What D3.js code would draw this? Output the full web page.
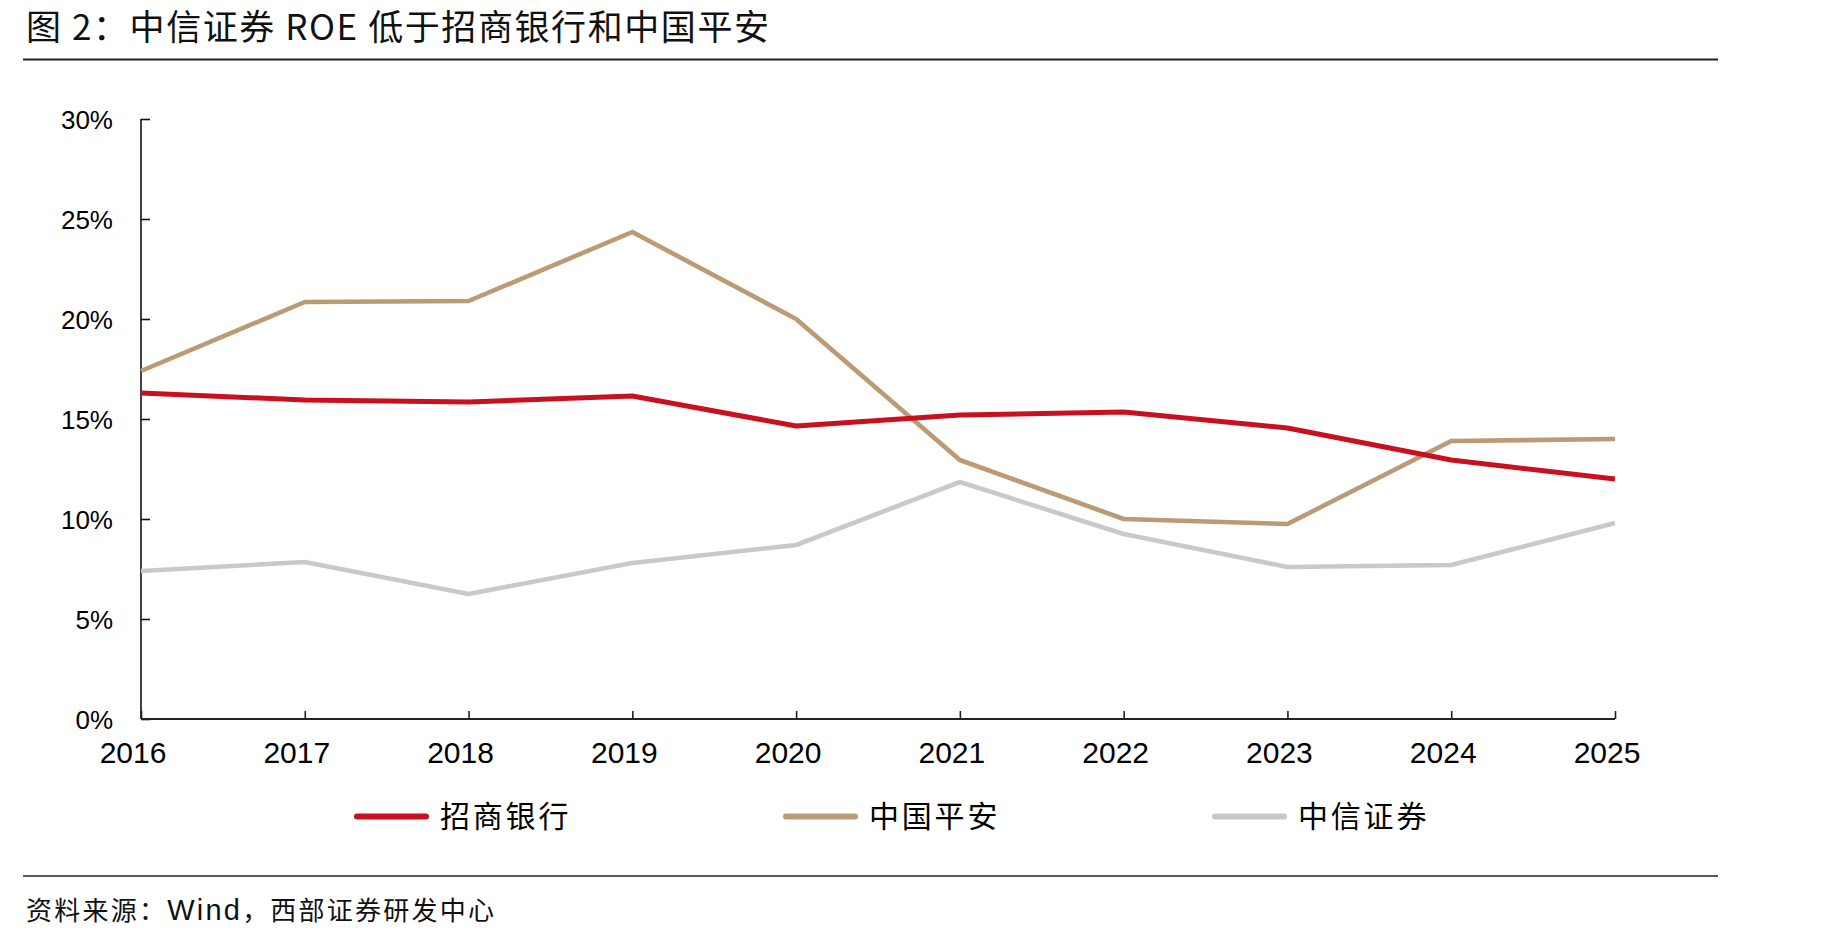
<!DOCTYPE html>
<html>
<head>
<meta charset="utf-8">
<script src="https://cdn.jsdelivr.net/npm/d3@7"></script>
<style>
  body { margin: 0; background: #fff; }
  svg { display: block; }
</style>
</head>
<body>
<div id="chart"></div>
<script>
// data (ROE, %)
var years = [2016, 2017, 2018, 2019, 2020, 2021, 2022, 2023, 2024, 2025];
var cmbRoe = [16.3, 15.95, 15.85, 16.15, 14.65, 15.2, 15.35, 14.55, 12.95, 12.0];
var pinganRoe = [17.4, 20.85, 20.9, 24.35, 20.0, 12.95, 10.0, 9.75, 13.9, 14.0];
var citicRoe = [7.4, 7.85, 6.25, 7.8, 8.7, 11.85, 9.25, 7.6, 7.7, 9.8];
var yTicks = [0, 5, 10, 15, 20, 25, 30];
var seriesNames = ["招商银行", "中国平安", "中信证券"];
var seriesColors = ["#c8101f", "#bc9a74", "#c9c9c9"];

var title = "图 2：中信证券 ROE 低于招商银行和中国平安";
var sourceCn1 = "资料来源：";
var sourceEn = "Wind";
var sourceCn2 = "，西部证券研发中心";

var W = 1836, H = 942;
var svg = d3.select("#chart").append("svg")
    .attr("width", W).attr("height", H)
    .style("background", "#fff");

var cjk = "'Noto Sans CJK SC', 'Noto Sans', sans-serif";
var latin = "'Liberation Sans', Arial, sans-serif";

// title + rules
svg.append("text")
    .attr("x", 26).attr("y", 40)
    .attr("font-family", cjk).attr("font-size", 35)
    .attr("fill", "#111")
    .attr("textLength", 743).attr("lengthAdjust", "spacing")
    .text(title);

svg.append("line").attr("x1", 23).attr("x2", 1718).attr("y1", 59.5).attr("y2", 59.5)
    .attr("stroke", "#222").attr("stroke-width", 2);
svg.append("line").attr("x1", 23).attr("x2", 1718).attr("y1", 876).attr("y2", 876)
    .attr("stroke", "#222").attr("stroke-width", 1.5);

// source line
var src = svg.append("text")
    .attr("x", 26).attr("y", 920)
    .attr("font-family", cjk).attr("font-size", 26)
    .attr("fill", "#111")
    .attr("textLength", 468).attr("lengthAdjust", "spacing");
src.append("tspan").text(sourceCn1);
src.append("tspan").attr("font-family", latin).attr("font-size", 29).text(sourceEn);
src.append("tspan").text(sourceCn2);

// scales
var x = d3.scaleLinear().domain([2016, 2025]).range([141, 1615]);
var y = d3.scaleLinear().domain([0, 30]).range([719, 119]);

// y axis
var yAxis = svg.append("g").attr("transform", "translate(141,0)")
    .call(d3.axisRight(y).tickValues(yTicks).tickSize(9).tickFormat(""));
yAxis.select(".domain").attr("stroke", "#111").attr("stroke-width", 1.6)
    .attr("d", "M0," + y(30) + "V" + y(0));
yAxis.selectAll(".tick line").attr("stroke", "#111").attr("stroke-width", 1.6);

svg.append("g").selectAll("text").data(yTicks).enter().append("text")
    .attr("x", 113).attr("y", function (d) { return y(d) + 9.6; })
    .attr("text-anchor", "end")
    .attr("font-family", latin).attr("font-size", 26).attr("fill", "#000")
    .text(function (d) { return d + "%"; });

// x axis
var xAxis = svg.append("g").attr("transform", "translate(0,719)")
    .call(d3.axisTop(x).tickValues(years).tickSize(8).tickFormat(""));
xAxis.select(".domain").attr("stroke", "#222").attr("stroke-width", 2.2)
    .attr("d", "M" + x(2016) + ",0H" + x(2025));
xAxis.selectAll(".tick line").attr("stroke", "#222").attr("stroke-width", 1.6);

svg.append("g").selectAll("text").data(years).enter().append("text")
    .attr("x", function (d) { return x(d) - 8; }).attr("y", 763)
    .attr("text-anchor", "middle")
    .attr("font-family", latin).attr("font-size", 30).attr("fill", "#000")
    .text(function (d) { return d; });

// series lines
var line = d3.line()
    .x(function (d, i) { return x(years[i]); })
    .y(function (d) { return y(d); });

var series = [cmbRoe, pinganRoe, citicRoe];
// draw grey first so red sits on top
var order = [2, 1, 0];
order.forEach(function (k) {
    svg.append("path")
        .datum(series[k])
        .attr("d", line)
        .attr("fill", "none")
        .attr("stroke", seriesColors[k])
        .attr("stroke-width", k == 0 ? 5 : 4.6)
        .attr("stroke-linejoin", "round")
        .attr("stroke-linecap", "butt");
});

// legend
var leg = svg.append("g").selectAll("g").data(seriesNames).enter().append("g")
    .attr("transform", function (d, i) { return "translate(" + (357 + i * 429) + ",816.5)"; });
leg.append("line").attr("x1", 0).attr("x2", 69).attr("y1", 0).attr("y2", 0)
    .attr("stroke", function (d, i) { return seriesColors[i]; })
    .attr("stroke-width", 6).attr("stroke-linecap", "round");
leg.append("text")
    .attr("x", 83).attr("y", 10.5)
    .attr("font-family", cjk).attr("font-size", 30).attr("fill", "#000")
    .attr("letter-spacing", 2.8)
    .text(function (d) { return d; });
</script>
</body>
</html>
